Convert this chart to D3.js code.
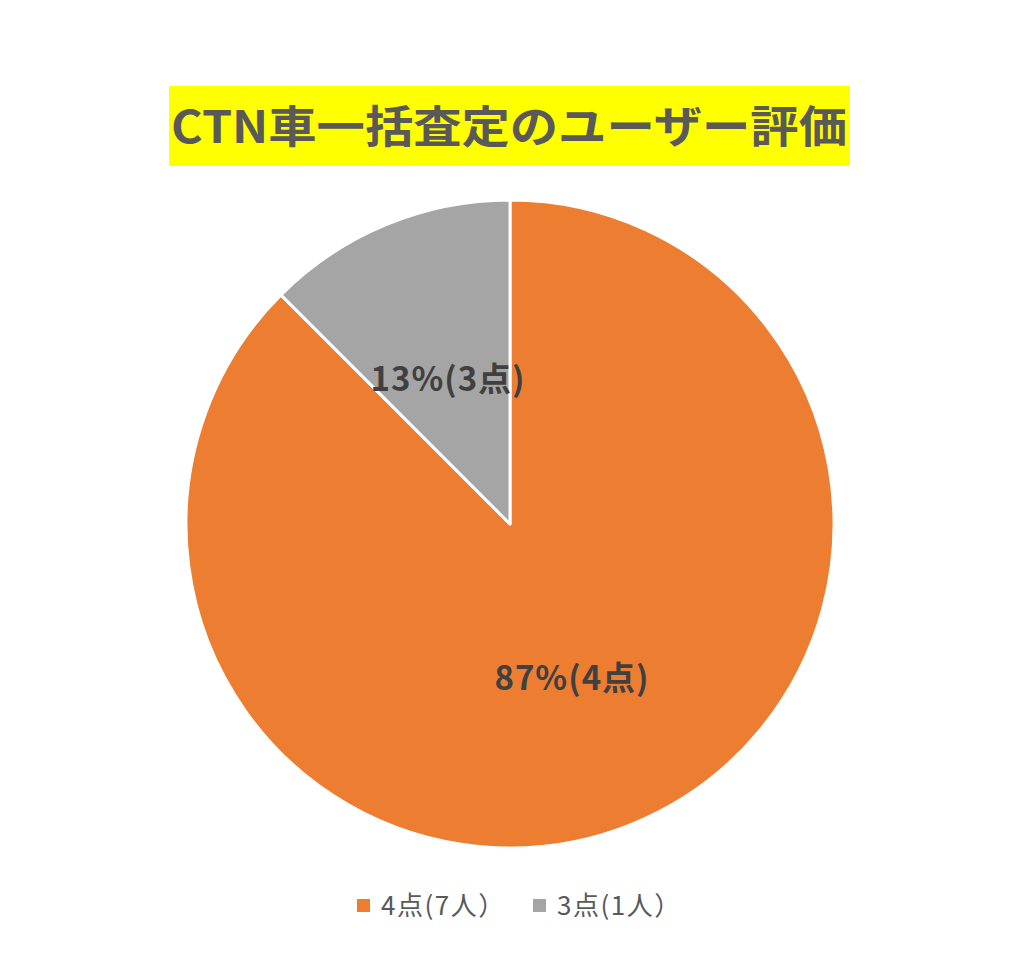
<!DOCTYPE html>
<meta charset="utf-8">
<style>
body { margin: 0; background: #fff; }
text { font-family: "Noto Sans CJK JP", "Noto Sans", sans-serif; }
</style>
<body>
<script src="https://d3js.org/d3.v7.min.js"></script>
<svg width="1024" height="957"></svg>
<script>

var titleText = "CTN車一括査定のユーザー評価";
var categories = ["4点(7人）", "3点(1人）"];
var counts = [7, 1];
var sliceLabels = ["87%(4点)", "13%(3点)"];
var colors = ["#ed7d31", "#a5a5a5"];

var svg = d3.select("svg");

var cx = 510, cy = 524, r = 324;

// title with yellow box
svg.append("rect")
    .attr("x", 169)
    .attr("y", 86)
    .attr("width", 681)
    .attr("height", 80)
    .attr("fill", "#ffff00");

svg.append("text")
    .attr("x", 509)
    .attr("y", 143)
    .attr("text-anchor", "middle")
    .attr("font-size", 44)
    .attr("font-weight", "bold")
    .attr("fill", "#595959")
    .attr("textLength", 676)
    .attr("lengthAdjust", "spacingAndGlyphs")
    .text(titleText);

var pie = d3.pie().sort(null);
var arc = d3.arc().innerRadius(0).outerRadius(r);
var labelArc = d3.arc().innerRadius(0).outerRadius(r);

var g = svg.append("g")
    .attr("transform", "translate(" + cx + "," + cy + ")");

var slices = g.selectAll("g.slice")
  .data(pie(counts))
  .enter().append("g")
    .attr("class", "slice");

slices.append("path")
    .attr("d", arc)
    .attr("fill", function(d, i) { return colors[i]; })
    .attr("stroke", "#fff")
    .attr("stroke-width", 3)
    .attr("stroke-linejoin", "round");

slices.append("text")
    .attr("transform", function(d) { return "translate(" + labelArc.centroid(d) + ")"; })
    .attr("text-anchor", "middle")
    .attr("dy", "0.5em")
    .attr("font-size", 33)
    .attr("font-weight", "bold")
    .attr("letter-spacing", 1)
    .attr("fill", "#404040")
    .text(function(d, i) { return sliceLabels[i]; });

// legend
var legendX = d3.scalePoint()
    .domain(categories)
    .range([357, 533]);

var lg = svg.append("g")
    .selectAll("g")
    .data(categories)
    .enter().append("g")
      .attr("transform", function(d) { return "translate(" + legendX(d) + ",899)"; });

lg.append("rect")
    .attr("width", 13)
    .attr("height", 13)
    .attr("fill", function(d, i) { return colors[i]; });

lg.append("text")
    .attr("x", 24)
    .attr("y", 7)
    .attr("dy", "0.35em")
    .attr("font-size", 26)
    .attr("letter-spacing", 1.5)
    .attr("fill", "#595959")
    .text(function(d) { return d; });

</script>
</body>
